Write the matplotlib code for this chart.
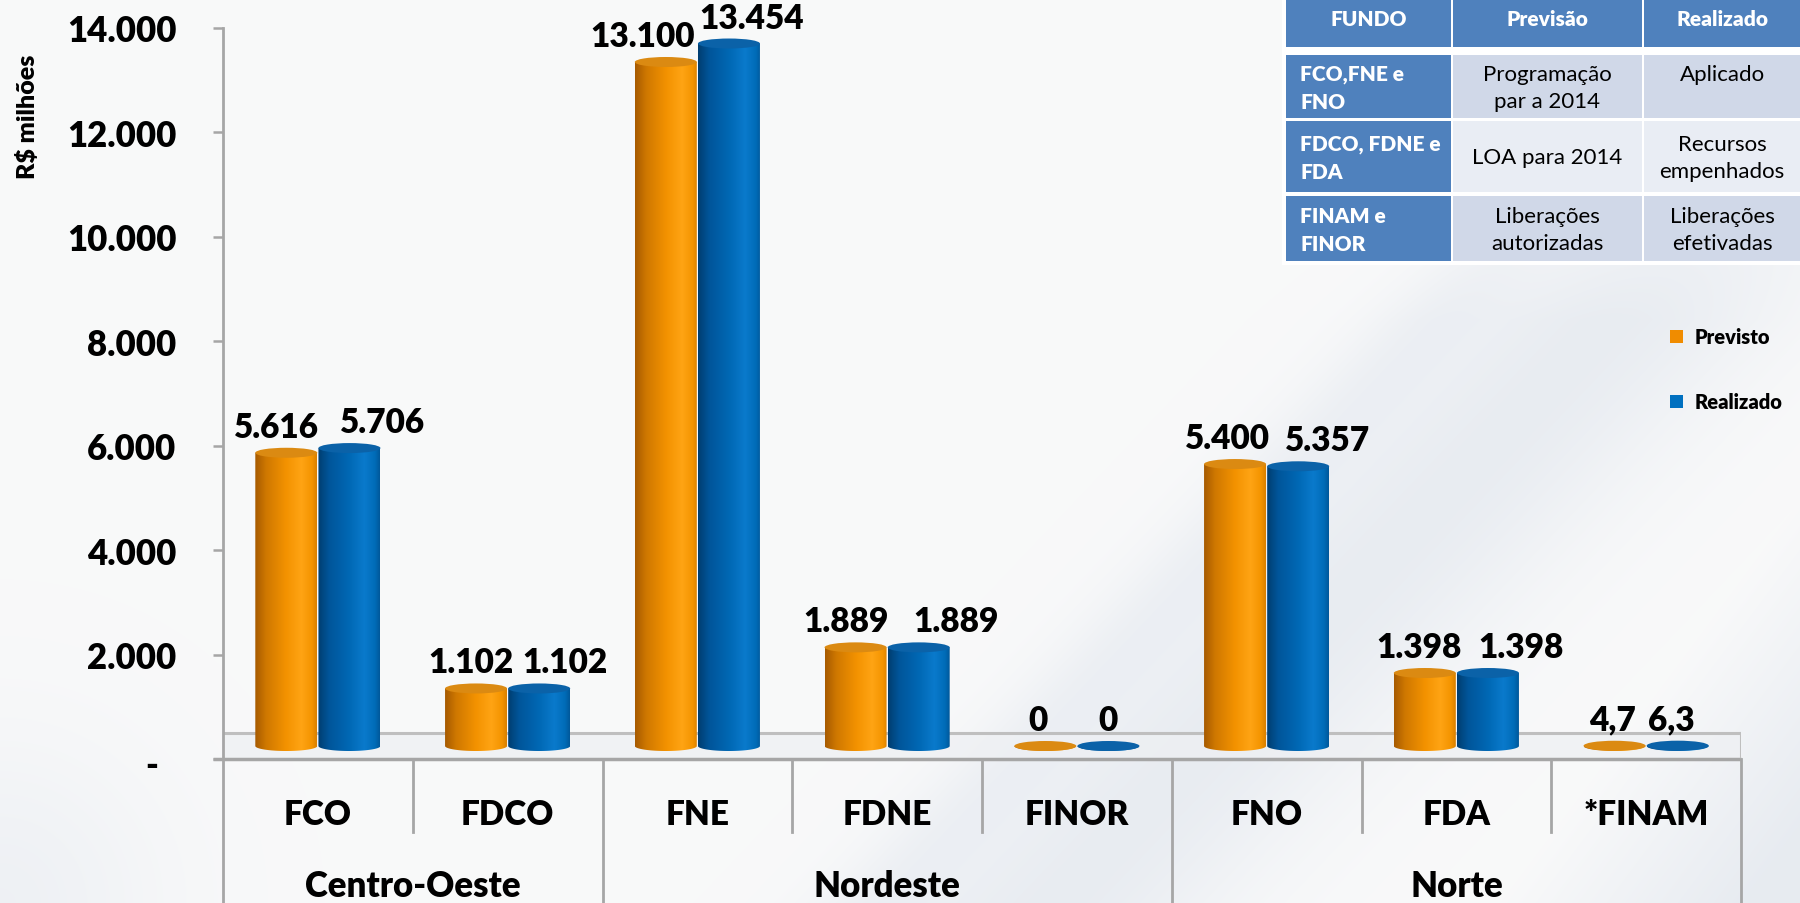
import numpy as np
import matplotlib
matplotlib.use("Agg")
import matplotlib.pyplot as plt
from matplotlib.patches import Rectangle, Ellipse, Polygon
from matplotlib.colors import LinearSegmentedColormap
from matplotlib.transforms import blended_transform_factory, ScaledTranslation

plt.rcParams['font.family'] = ['Lato', 'DejaVu Sans']

# ---------------- data ----------------
categories = ["FCO", "FDCO", "FNE", "FDNE", "FINOR", "FNO", "FDA", "*FINAM"]
groups = ["Centro-Oeste", "Nordeste", "Norte"]
group_sizes = [2, 3, 3]
previsto = [5616, 1102, 13100, 1889, 0, 5400, 1398, 4.7]
realizado = [5706, 1102, 13454, 1889, 0, 5357, 1398, 6.3]
series_names = ["Previsto", "Realizado"]
yticks = [0, 2000, 4000, 6000, 8000, 10000, 12000, 14000]

table_header = ["FUNDO", "Previsão", "Realizado"]
table_rows = [
    ["FCO,FNE e\nFNO", "Programação\npar a 2014", "Aplicado\n "],
    ["FDCO, FDNE e\nFDA", "LOA para 2014", "Recursos\nempenhados"],
    ["FINAM e\nFINOR", "Liberações\nautorizadas", "Liberações\nefetivadas"],
]

# ---------------- style ----------------
W, H = 1800, 904
DPI = 100
BOLD = "heavy"
GRID = "#A6A6A6"
orange_cmap = LinearSegmentedColormap.from_list(
    "o", [(0, "#A65A00"), (0.18, "#CF7800"), (0.5, "#F39200"), (0.75, "#FFA414"), (0.92, "#F49400"), (1, "#D98000")])
blue_cmap = LinearSegmentedColormap.from_list(
    "b", [(0, "#003E70"), (0.18, "#00559A"), (0.5, "#0068B4"), (0.75, "#0A7ACC"), (0.92, "#006CB8"), (1, "#00589A")])
cap_colors = ["#DB8A12", "#0B62A8"]
label_dx_px = [[-10, -5, -23, -9, -7, -8, -6, -2],
               [33, 26, 23, 37, 0, 29, 33, -6]]

fig = plt.figure(figsize=(W / DPI, H / DPI), dpi=DPI)
fig.patch.set_facecolor("#F6F7F8")

# background swoosh
bg = fig.add_axes([0, 0, 1, 1], zorder=-10)
bg.set_axis_off()
yy, xx = np.mgrid[0:H, 0:W].astype(float)
img = np.ones((H, W, 3)) * np.array([0.975, 0.977, 0.98])
shade = np.array([0.86, 0.885, 0.92])
xc = 1800 - 0.95 * (yy - 120)
w1 = np.exp(-((xx - xc) / 170.0) ** 2) * np.clip((yy - 120) / 200.0, 0, 1) * 0.55
xc2 = 1950 - 0.75 * (yy - 300)
w2 = np.clip((xx - xc2) / 250.0, 0, 1) * 0.6
xc3 = 1620 - 0.95 * (yy - 120)
w3 = np.exp(-((xx - xc3) / 60.0) ** 2) * np.clip((yy - 120) / 200.0, 0, 1) * 0.25
wl = np.exp(-(((xx - 0) / 160.0) ** 2 + ((yy - 904) / 160.0) ** 2)) * 0.35
wt = np.clip(w1 + w2 + w3 + wl, 0, 0.8)[..., None]
img = img * (1 - wt) + shade * wt
bg.imshow(img, extent=(0, W, H, 0), aspect="auto")
bg.set_xlim(0, W)
bg.set_ylim(H, 0)

# main axes: x 223..1741 px, y: 0 at 760 px, 14000 at 29 px
x0_px, x1_px, y0_px, y14_px = 223, 1741, 760, 29
ppu = (y0_px - y14_px) / 14000.0
ax = fig.add_axes([x0_px / W, 1 - y0_px / H, (x1_px - x0_px) / W, y0_px / H])
ax.patch.set_alpha(0)
n = len(categories)
ax.set_xlim(0, n)
ax.set_ylim(0, y0_px / ppu)
ax.set_autoscale_on(False)

for s in ["top", "right", "bottom"]:
    ax.spines[s].set_visible(False)
ax.spines["left"].set_color(GRID)
ax.spines["left"].set_linewidth(2)
ax.spines["left"].set_bounds(0, 14000)
ax.set_xticks([])
ax.set_yticks(yticks)
ax.set_yticklabels([("-" if v == 0 else f"{v:,}".replace(",", ".")) for v in yticks])
ax.tick_params(axis="y", length=7.5, width=1.8, color=GRID, labelsize=25, pad=26)
for lab in ax.get_yticklabels():
    lab.set_fontweight(BOLD)
ax.get_yticklabels()[0].set_transform(
    ax.get_yticklabels()[0].get_transform() + ScaledTranslation(-0.18, -0.04, fig.dpi_scale_trans))

# floor
floor_depth = 26 / ppu
ax.add_patch(Rectangle((0, 0), n, floor_depth, facecolor="#EEF0F3", alpha=0.7, edgecolor="none", zorder=1))
ax.plot([0, n], [floor_depth, floor_depth], color="#BFBFBF", lw=2.2, zorder=1.5, solid_capstyle="butt")
ax.plot([-0.055, n], [0, 0], color=GRID, lw=2.5, zorder=1.5, clip_on=False, solid_capstyle="butt")
ax.plot([n, n], [0, floor_depth], color="#BFBFBF", lw=2.2, zorder=1.5)

# cylinders
base = floor_depth / 2
bw = 62 / ((x1_px - x0_px) / n)
offs = [-bw / 2 - 0.003, bw / 2 + 0.003]
ell_h = 10 / ppu
xs = np.arange(n) + 0.5
cmaps = [orange_cmap, blue_cmap]
grad = np.linspace(0, 1, 256)[None, :]

def fmt(v):
    if float(v).is_integer():
        return f"{int(v):,}".replace(",", ".")
    return f"{v:.1f}".replace(".", ",")

for si, vals in enumerate([previsto, realizado]):
    bars = ax.bar(xs + offs[si], vals, width=bw, bottom=base, color="none", edgecolor="none", zorder=3)
    for bi, (rect, v) in enumerate(zip(bars.patches, vals)):
        bx0, bwid = rect.get_x(), rect.get_width()
        by0, bh = rect.get_y(), rect.get_height()
        cx = bx0 + bwid / 2
        top = by0 + bh
        t = np.linspace(np.pi, 2 * np.pi, 60)
        bottom_arc = np.column_stack([cx + bwid / 2 * np.cos(t), by0 + ell_h / 2 * np.sin(t)])
        poly_pts = np.vstack([bottom_arc, [[bx0 + bwid, top], [bx0, top]]])
        poly = Polygon(poly_pts, closed=True, facecolor="none", edgecolor="none", transform=ax.transData)
        ax.add_patch(poly)
        im = ax.imshow(grad, extent=(bx0, bx0 + bwid, by0 - ell_h / 2, top), aspect="auto",
                       cmap=cmaps[si], zorder=3 + si * 0.1, interpolation="bilinear")
        im.set_clip_path(poly)
        ax.add_patch(Ellipse((cx, top), bwid, ell_h, facecolor=cap_colors[si], edgecolor="none",
                             zorder=3.05 + si * 0.1))
        ax.annotate(fmt(v), xy=(cx, top), xytext=(label_dx_px[si][bi] * 0.72, 16 * 0.72),
                    textcoords="offset points", ha="center", va="baseline",
                    fontsize=24, fontweight=BOLD, color="black", zorder=5)

ax.set_xlim(0, n)
ax.set_ylim(0, y0_px / ppu)

# category / group axis below
tr = blended_transform_factory(ax.transData, fig.transFigure)
bounds = np.cumsum([0] + group_sizes)
for k in range(n + 1):
    ybot = 0 if k in bounds else 1 - 833 / H
    ax.plot([k, k], [1 - y0_px / H, ybot], transform=tr, color=GRID, lw=2, clip_on=False)
for i, c in enumerate(categories):
    ax.text(i + 0.5, 1 - 825 / H, c, transform=tr, ha="center", va="baseline",
            fontsize=24, fontweight=BOLD)
for g, a, b in zip(groups, bounds[:-1], bounds[1:]):
    ax.text((a + b) / 2, 1 - 897 / H, g, transform=tr, ha="center", va="baseline",
            fontsize=25, fontweight=BOLD)

# overlay in pixel coords
ov = fig.add_axes([0, 0, 1, 1], zorder=5)
ov.set_axis_off()
ov.patch.set_alpha(0)
ov.set_xlim(0, W)
ov.set_ylim(H, 0)

ov.text(27, 117, "R$ milhões", rotation=90, ha="center", va="center", fontsize=18, fontweight=BOLD)

# table
col_x = [(1286, 1451), (1453, 1642), (1644, 1810)]
row_y = [(0, 48), (56, 119), (122, 193), (197, 262)]
HDR = "#4F81BD"
body_fill = ["#D0D8E8", "#E9EDF4", "#D0D8E8"]
ov.add_patch(Rectangle((1282, 0), 530, 266, facecolor="white", edgecolor="none"))
for ci, (xa, xb) in enumerate(col_x):
    ya, yb = row_y[0]
    ov.add_patch(Rectangle((xa, ya), xb - xa, yb - ya, facecolor=HDR, edgecolor="none"))
    ov.text((xa + min(xb, W)) / 2, 20, table_header[ci], ha="center", va="center",
            color="white", fontsize=15, fontweight=BOLD)
for ri, row in enumerate(table_rows):
    ya, yb = row_y[ri + 1]
    for ci, (xa, xb) in enumerate(col_x):
        fc = HDR if ci == 0 else body_fill[ri]
        ov.add_patch(Rectangle((xa, ya), xb - xa, yb - ya, facecolor=fc, edgecolor="none"))
        txt = row[ci]
        if ci == 0:
            ov.text(xa + 14, (ya + yb) / 2 + 1, txt, ha="left", va="center", color="white",
                    fontsize=15, fontweight=BOLD, linespacing=1.55)
        else:
            ov.text((xa + min(xb, W)) / 2, (ya + yb) / 2 + 1, txt, ha="center", va="center",
                    color="black", fontsize=16, linespacing=1.45, multialignment="center")

# legend
leg_colors = ["#F08C00", "#0070C0"]
for i, (name, col) in enumerate(zip(series_names, leg_colors)):
    yc = 337 + i * 65
    ov.add_patch(Rectangle((1670, yc - 6.5), 13, 13, facecolor=col, edgecolor="none"))
    ov.text(1695, yc + 1, name, ha="left", va="center", fontsize=14.5, fontweight=BOLD)

fig.savefig("out.png", dpi=DPI, facecolor=fig.get_facecolor())
